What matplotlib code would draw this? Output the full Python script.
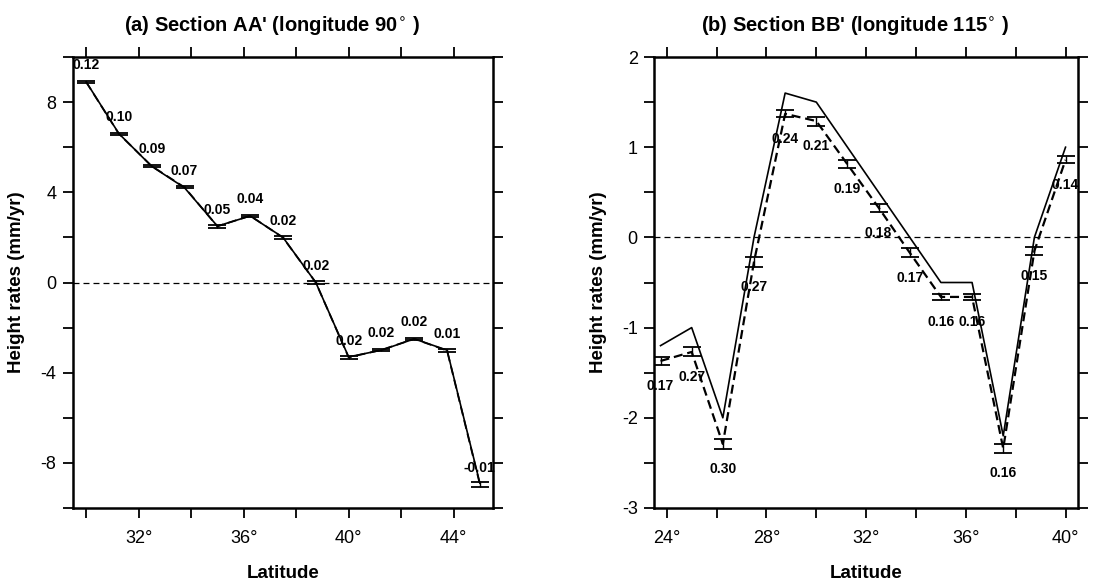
import matplotlib
matplotlib.use("Agg")
import matplotlib.pyplot as plt
from matplotlib.ticker import MultipleLocator, FuncFormatter

plt.rcParams['font.family'] = ['Liberation Sans', 'DejaVu Sans']
plt.rcParams['axes.unicode_minus'] = False
plt.rcParams['lines.scale_dashes'] = False

# ---- data: panel (a) ----
lat_a = [30.0, 31.25, 32.5, 33.75, 35.0, 36.25, 37.5, 38.75, 40.0, 41.25, 42.5, 43.75, 45.0]
model_a = [8.9, 6.6, 5.15, 4.2, 2.5, 2.95, 2.0, 0.0, -3.3, -3.0, -2.5, -3.0, -8.9]
obs_a = [8.89, 6.59, 5.16, 4.22, 2.49, 2.96, 1.99, 0.0, -3.32, -2.99, -2.50, -3.02, -8.95]
err_a = [0.05, 0.05, 0.05, 0.05, 0.06, 0.05, 0.05, 0.05, 0.06, 0.05, 0.05, 0.08, 0.10]
lab_a = ['0.12', '0.10', '0.09', '0.07', '0.05', '0.04', '0.02', '0.02', '0.02', '0.02', '0.02', '0.01', '-0.01']

# ---- data: panel (b) ----
lat_b = [23.75, 25.0, 26.25, 27.5, 28.75, 30.0, 31.25, 32.5, 33.75, 35.0, 36.25, 37.5, 38.75, 40.0]
model_b = [-1.2, -1.0, -2.0, 0.0, 1.6, 1.5, 1.0, 0.5, 0.0, -0.5, -0.5, -2.2, 0.0, 1.0]
obs_b = [-1.37, -1.27, -2.29, -0.27, 1.37, 1.29, 0.81, 0.33, -0.17, -0.66, -0.66, -2.34, -0.15, 0.86]
err_b = [0.04, 0.05, 0.055, 0.055, 0.04, 0.05, 0.045, 0.045, 0.05, 0.03, 0.03, 0.046, 0.045, 0.04]
lab_b = ['0.17', '0.27', '0.30', '0.27', '0.24', '0.21', '0.19', '0.18', '0.17', '0.16', '0.16', '0.16', '0.15', '0.14']

titles = ["(a) Section AA' (longitude 90$^{\\circ}$ )", "(b) Section BB' (longitude 115$^{\\circ}$ )"]

fig = plt.figure(figsize=(11.16, 5.81), dpi=100)
axA = fig.add_axes([73/1116, 73/581, 420/1116, 451/581])
axB = fig.add_axes([654.3/1116, 73/581, 423.7/1116, 451/581])


def lat_fmt(step):
    def f(x, pos):
        r = int(round(x))
        return f"{r}\u00b0" if r % step == 0 else ""
    return f


def style(ax, xlim, ylim, xmaj, ymaj, ylabstep, title):
    ax.set_xlim(*xlim)
    ax.set_ylim(*ylim)
    ax.xaxis.set_major_locator(MultipleLocator(xmaj))
    ax.xaxis.set_major_formatter(FuncFormatter(lat_fmt(4)))
    ax.yaxis.set_major_locator(MultipleLocator(ymaj))

    def yf(y, pos):
        k = y / ylabstep
        if abs(k - round(k)) < 1e-6:
            return f"{y:g}"
        return ""
    ax.yaxis.set_major_formatter(FuncFormatter(yf))
    ax.tick_params(direction='out', length=7, width=1.3, labelsize=13,
                   top=True, right=True)
    ax.tick_params(axis='x', pad=9)
    ax.tick_params(axis='y', pad=5)
    for s in ax.spines.values():
        s.set_linewidth(1.8)
    ax.axhline(0, color='black', lw=0.9, dashes=(4.3, 2.9), zorder=1)
    ax.set_xlabel('Latitude', fontsize=13.5, fontweight='bold', labelpad=13)
    ax.set_ylabel('Height rates (mm/yr)', fontsize=13.5, fontweight='bold')
    ax.text(0.473, 1.07, title, transform=ax.transAxes, ha='center', va='center',
            fontsize=14.5, fontweight='bold')


style(axA, (29.5, 45.5), (-10, 10), 2, 2, 4, titles[0])
style(axB, (23.5, 40.5), (-3, 2), 2, 0.5, 1, titles[1])

# panel (a)
axA.plot(lat_a, model_a, color='black', lw=1.2, zorder=3)
axA.errorbar(lat_a, obs_a, yerr=err_a, color='black', lw=1.3, dashes=(6.5, 3.5),
             elinewidth=1.0, capsize=6.5, capthick=1.3, zorder=4)
for x, y, t in zip(lat_a, obs_a, lab_a):
    axA.annotate(t, (x, y), xytext=(0, 12), textcoords='offset points',
                 ha='center', va='center', fontsize=10, fontweight='bold',
                 annotation_clip=False, zorder=5)

# panel (b)
axB.plot(lat_b, model_b, color='black', lw=1.2, zorder=3)
axB.errorbar(lat_b, obs_b, yerr=err_b, color='black', lw=1.6, dashes=(6.5, 3.5),
             elinewidth=1.0, capsize=6.5, capthick=1.3, zorder=4)
for x, y, t in zip(lat_b, obs_b, lab_b):
    axB.annotate(t, (x, y), xytext=(0, -18), textcoords='offset points',
                 ha='center', va='center', fontsize=10, fontweight='bold',
                 annotation_clip=False, zorder=5)

axA.yaxis.set_label_coords(-0.114, 0.5)
axB.yaxis.set_label_coords(-0.112, 0.5)

fig.savefig('out.png', dpi=100)
